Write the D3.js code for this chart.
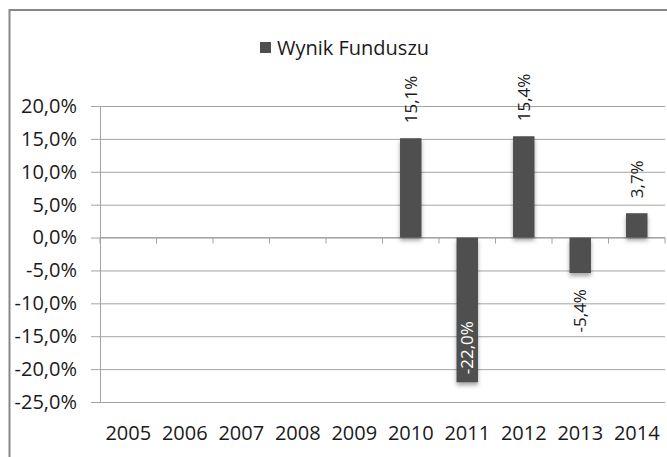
<!DOCTYPE html>
<html>
<head>
<meta charset="utf-8">
<script src="https://cdn.jsdelivr.net/npm/d3@7"></script>
<style>
  html, body { margin: 0; padding: 0; background: #fff; }
  svg { display: block; font-family: "Open Sans", sans-serif; }
</style>
</head>
<body>
<svg id="chart" width="667" height="457"></svg>
<script>
const categories = ["2005","2006","2007","2008","2009","2010","2011","2012","2013","2014"];
const values = [null, null, null, null, null, 15.1, -22.0, 15.4, -5.4, 3.7];
const seriesName = "Wynik Funduszu";
const yTicks = [20, 15, 10, 5, 0, -5, -10, -15, -20, -25];

const svg = d3.select("#chart");
const W = 667, H = 457;
const mLeft = 100, mRight = 665, mTop = 106, mBottom = 402;

const locale = d3.formatLocale({decimal: ",", thousands: " ", grouping: [3], currency: ["", ""], minus: "-"});
const fmt = locale.format(".1f");

const x = d3.scaleBand().domain(categories).range([mLeft, mRight]).paddingInner(0.62).paddingOuter(0.31);
const xb = d3.scaleBand().domain(categories).range([mLeft, mRight]).padding(0);
const y = d3.scaleLinear().domain([-25, 20]).range([mBottom, mTop]);

// background + border
svg.append("rect").attr("width", W).attr("height", H).attr("fill", "#fff");
svg.append("rect").attr("x", 9.5).attr("y", 10).attr("width", 800).attr("height", 600)
  .attr("fill", "none").attr("stroke", "#878787").attr("stroke-width", 2);

const defs = svg.append("defs");
const f = defs.append("filter").attr("id", "shadow").attr("x", "-30%").attr("y", "-30%").attr("width", "160%").attr("height", "160%");
f.append("feDropShadow").attr("dx", 0).attr("dy", 3).attr("stdDeviation", 2.2)
  .attr("flood-color", "#000").attr("flood-opacity", 0.35);

// y axis with gridlines
const yAxis = d3.axisLeft(y).tickValues(yTicks).tickFormat(d => fmt(d) + "%")
  .tickSize(9).tickPadding(14);
const gy = svg.append("g").attr("transform", `translate(${mLeft},0)`).call(yAxis);
gy.select(".domain").attr("stroke", "#a3a3a3");
gy.selectAll(".tick line").attr("stroke", "#a3a3a3").attr("x2", -9).attr("x1", mRight - mLeft);
gy.selectAll(".tick text").attr("font-size", 20).attr("fill", "#1a1a1a")
  .attr("font-family", "Open Sans, sans-serif");

// zero line with boundary ticks
const zy = y(0);
svg.append("line").attr("x1", mLeft).attr("x2", mRight).attr("y1", zy).attr("y2", zy)
  .attr("stroke", "#a3a3a3");
const bounds = categories.map(c => xb(c)).concat([mRight]);
svg.append("g").selectAll("line").data(bounds).join("line")
  .attr("x1", d => d).attr("x2", d => d).attr("y1", zy).attr("y2", zy + 6)
  .attr("stroke", "#a3a3a3");

// x axis labels
const xAxis = d3.axisBottom(xb).tickSize(0).tickPadding(24);
const gx = svg.append("g").attr("transform", `translate(0,${mBottom})`).call(xAxis);
gx.select(".domain").remove();
gx.selectAll(".tick text").attr("font-size", 20).attr("fill", "#1a1a1a")
  .attr("font-family", "Open Sans, sans-serif");

// bars
const data = categories.map((c, i) => ({c, v: values[i]})).filter(d => d.v !== null);
svg.append("g").selectAll("rect").data(data).join("rect")
  .attr("x", d => x(d.c)).attr("width", x.bandwidth())
  .attr("y", d => y(Math.max(0, d.v))).attr("height", d => Math.abs(y(d.v) - y(0)))
  .attr("fill", "#4f4f4f").attr("filter", "url(#shadow)");

// labels
svg.append("g").selectAll("text").data(data).join("text")
  .attr("font-size", 17).attr("font-family", "Open Sans, sans-serif")
  .attr("dy", "0.35em")
  .text(d => fmt(d.v) + "%")
  .each(function(d) {
    const cx = x(d.c) + x.bandwidth() / 2;
    const t = d3.select(this);
    let ypos, anchor, fill = "#1a1a1a";
    if (d.v >= 0) { ypos = y(d.v) - 15; anchor = "start"; }
    else if (y(d.v) + 60 > mBottom) { ypos = y(d.v) - 8; anchor = "start"; fill = "#fff"; }
    else { ypos = y(d.v) + 16; anchor = "end"; }
    t.attr("text-anchor", anchor).attr("fill", fill)
     .attr("transform", `translate(${cx},${ypos}) rotate(-90)`);
  });

// legend
const lg = svg.append("g");
lg.append("rect").attr("x", 260).attr("y", 42).attr("width", 11).attr("height", 11).attr("fill", "#4f4f4f");
lg.append("text").attr("x", 277).attr("y", 48).attr("dy", "0.35em")
  .attr("font-size", 20).attr("fill", "#1a1a1a").text(seriesName);
</script>
</body>
</html>
